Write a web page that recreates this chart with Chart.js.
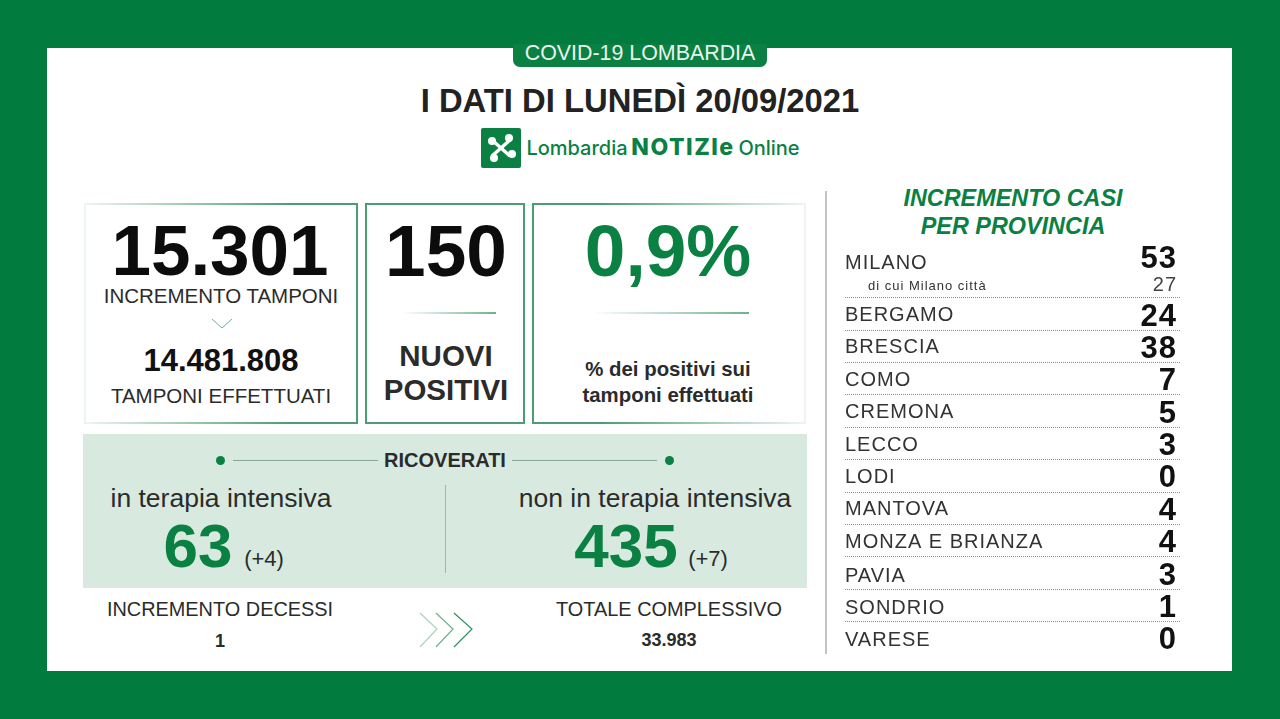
<!DOCTYPE html>
<html>
<head>
<meta charset="utf-8">
<script src="https://cdn.jsdelivr.net/npm/chart.js@4/dist/chart.umd.min.js"></script>
<style>
    html, body { margin: 0; padding: 0; }
    body { width: 1280px; height: 719px; background: #027b3f; position: relative; overflow: hidden; font-family: "Liberation Sans", sans-serif; color: #2b2b2b; }
    #sheet { position: absolute; left: 47px; top: 48px; width: 1185px; height: 623px; background: #fff; }
    #pill { position: absolute; left: 513px; top: 44px; width: 254px; height: 23px; background: #0a8043; border-radius: 0 0 7px 7px; }
    .t { position: absolute; white-space: nowrap; line-height: 1; transform: translate(-50%, -50%); }
    .b { font-weight: bold; }
    .g { color: #0a8043; }
    .box { position: absolute; box-sizing: border-box; border: 2px solid #4b9e72; top: 203px; height: 221px; }
    #box1 { left: 84px; width: 274px; border-image: linear-gradient(90deg, #eef5f0, #4b9e72 75%) 1; }
    #box2 { left: 365px; width: 160px; }
    #box3 { left: 532px; width: 274px; border-image: linear-gradient(270deg, #eef5f0, #4b9e72 75%) 1; }
    .rule { position: absolute; height: 2px; top: 312px; background: linear-gradient(90deg, #fff, #6fb18d); }
    #panel { position: absolute; left: 83px; top: 434px; width: 724px; height: 154px; background: #d8eae0; }
    .dot { position: absolute; width: 9px; height: 9px; border-radius: 50%; background: #0a8043; top: 456px; }
    .thin { position: absolute; height: 1px; top: 460px; background: #8aa598; }
    #split { position: absolute; left: 445px; top: 485px; width: 1px; height: 88px; background: #8fbfa5; }
    #divider { position: absolute; left: 825px; top: 191px; width: 2px; height: 463px; background: #c4c4c4; }
    #provinceChart { position: absolute; left: 845px; top: 233px; }
    svg { position: absolute; }
</style>
</head>
<body>
<div id="sheet"></div>
<div id="pill"></div>
<div class="t" style="left:640px;top:54px;font-size:21.4px;color:#e8f4ed">COVID-19 LOMBARDIA</div>
<div class="t b" style="left:640px;top:101px;font-size:32.8px;color:#222">I DATI DI LUNEDÌ 20/09/2021</div>

<!-- logo -->
<svg style="left:481px;top:128px" width="40" height="40" viewBox="0 0 40 40">
    <rect width="40" height="40" rx="2" fill="#0a8043"/>
    <g stroke="#fff" stroke-width="3.4"><line x1="11" y1="12" x2="29" y2="28"/><line x1="29" y1="12" x2="11" y2="28"/></g>
    <g fill="#fff"><circle cx="11" cy="13" r="4"/><circle cx="28" cy="10" r="4"/><circle cx="31" cy="26" r="4"/><circle cx="13" cy="30" r="4"/></g>
</svg>
<div class="t g" style="left:577px;top:148px;font:500 20px Inter;line-height:1">Lombardia</div>
<div class="t g" style="left:683px;top:147px;font:800 23px Inter;line-height:1;letter-spacing:1.5px">NOTIZIe</div>
<div class="t g" style="left:769px;top:148px;font:500 20px Inter;line-height:1">Online</div>

<!-- top boxes -->
<div class="box" id="box1"></div>
<div class="box" id="box2"></div>
<div class="box" id="box3"></div>
<div class="t b" style="left:220px;top:250px;font-size:71px;color:#0c0c0c">15.301</div>
<div class="t" style="left:221px;top:296px;font-size:20.5px">INCREMENTO TAMPONI</div>
<svg style="left:210px;top:317px" width="24" height="14"><polyline points="2,2 12,11 22,2" fill="none" stroke="#6fb18d" stroke-width="1"/></svg>
<div class="t b" style="left:221px;top:360px;font-size:31px;color:#111">14.481.808</div>
<div class="t" style="left:221px;top:396px;font-size:20.5px">TAMPONI EFFETTUATI</div>
<div class="t b" style="left:446px;top:250px;font-size:73px;color:#0c0c0c">150</div>
<div class="rule" style="left:402px;width:94px"></div>
<div class="t b" style="left:446px;top:356px;font-size:29.5px">NUOVI</div>
<div class="t b" style="left:446px;top:390px;font-size:29.5px">POSITIVI</div>
<div class="t b g" style="left:668px;top:250px;font-size:73px">0,9%</div>
<div class="rule" style="left:592px;width:157px"></div>
<div class="t b" style="left:668px;top:369px;font-size:20.4px">% dei positivi sui</div>
<div class="t b" style="left:668px;top:395px;font-size:20.4px">tamponi effettuati</div>

<!-- ricoverati -->
<div id="panel"></div>
<div class="dot" style="left:216px"></div>
<div class="dot" style="left:665px"></div>
<div class="thin" style="left:233px;width:145px"></div>
<div class="thin" style="left:512px;width:145px"></div>
<div class="t b" style="left:445px;top:460px;font-size:20px">RICOVERATI</div>
<div id="split"></div>
<div class="t" style="left:221px;top:498px;font-size:26.5px">in terapia intensiva</div>
<div class="t b g" style="left:198px;top:546px;font-size:62px">63</div>
<div class="t" style="left:264px;top:559px;font-size:22px">(+4)</div>
<div class="t" style="left:655px;top:498px;font-size:26.5px">non in terapia intensiva</div>
<div class="t b g" style="left:626px;top:546px;font-size:62px">435</div>
<div class="t" style="left:708px;top:559px;font-size:22px">(+7)</div>

<!-- bottom -->
<div class="t" style="left:220px;top:610px;font-size:19.9px">INCREMENTO DECESSI</div>
<div class="t b" style="left:220px;top:641px;font-size:18px">1</div>
<svg style="left:418px;top:610px" width="58" height="40">
    <g fill="none" stroke-width="1.2">
        <polyline points="2,3 19,19 2,37" stroke="#a9d3bb"/>
        <polyline points="18,3 35,19 18,37" stroke="#6fb18d"/>
        <polyline points="36,3 54,19 36,37" stroke="#2f9160"/>
    </g>
</svg>
<div class="t" style="left:669px;top:610px;font-size:19.9px">TOTALE COMPLESSIVO</div>
<div class="t b" style="left:669px;top:640px;font-size:18px">33.983</div>

<!-- province column -->
<div id="divider"></div>
<div class="t b g" style="left:1013px;top:199px;font-size:23.4px;font-style:italic">INCREMENTO CASI</div>
<div class="t b g" style="left:1013px;top:227px;font-size:23.4px;font-style:italic">PER PROVINCIA</div>
<canvas id="provinceChart" width="335" height="421" style="width:335px;height:421px"></canvas>

<script>
    const provinces = ['MILANO', 'di cui Milano città', 'BERGAMO', 'BRESCIA', 'COMO', 'CREMONA', 'LECCO', 'LODI', 'MANTOVA', 'MONZA E BRIANZA', 'PAVIA', 'SONDRIO', 'VARESE'];
    const newCases = [53, 27, 24, 38, 7, 5, 3, 0, 4, 4, 3, 1, 0];
    const subRow = 1;

    // the Milano rows are not evenly spaced in the picture, so shift their tick labels
    const shiftLabels = {
        id: 'shiftLabels',
        beforeDraw(chart) {
            chart.ctx.letterSpacing = '1px';
        },
        afterUpdate(chart) {
            chart.scales.y.getLabelItems().forEach((item, i) => {
                item.options.translation[1] += i === 0 ? 14 : i === subRow ? 5 : i >= 10 ? 3 : 1.5;
                if (i === subRow) item.options.translation[0] += 23;
            });
            chart.scales.y1.getLabelItems().forEach((item, i) => {
                item.options.translation[1] += i === 0 ? 10 : i === subRow ? 4 : 3;
                item.options.translation[0] -= 3;
            });
        }
    };

    // rows have to fill the canvas, no room kept for half a tick label
    const noPadding = scale => {
        scale.paddingTop = 0;
        scale.paddingBottom = 0;
    };

    new Chart(document.getElementById('provinceChart'), {
        type: 'bar',
        data: {
            labels: provinces,
            datasets: [{
                label: 'Incremento casi',
                data: newCases,
                backgroundColor: 'transparent',
                yAxisID: 'y',
                xAxisID: 'x'
            }]
        },
        options: {
            indexAxis: 'y',
            responsive: false,
            animation: false,
            layout: { padding: 0 },
            plugins: { legend: { display: false }, tooltip: { enabled: false } },
            scales: {
                x: { display: false, min: 0, max: 60 },
                y: {
                    type: 'category',
                    offset: true,
                    afterFit: noPadding,
                    border: { display: false, dash: [1, 1] },
                    grid: {
                        offset: true,
                        drawTicks: false,
                        color: ctx => (ctx.index >= 2 && ctx.index <= 12) ? '#4fb38f' : 'transparent'
                    },
                    ticks: {
                        mirror: true,
                        padding: 0,
                        autoSkip: false,
                        color: '#333',
                        font: ctx => ({ family: 'Liberation Sans', size: ctx.index === subRow ? 13 : 20 })
                    }
                },
                y1: {
                    type: 'category',
                    position: 'right',
                    offset: true,
                    afterFit: noPadding,
                    labels: newCases.map(String),
                    border: { display: false },
                    grid: { display: false, drawTicks: false },
                    ticks: {
                        mirror: true,
                        padding: 0,
                        autoSkip: false,
                        color: ctx => ctx.index === subRow ? '#444' : '#111',
                        font: ctx => ctx.index === subRow
                            ? { family: 'Liberation Sans', size: 20 }
                            : { family: 'Liberation Sans', size: 31, weight: 'bold' }
                    }
                }
            }
        },
        plugins: [shiftLabels]
    });
</script>
</body>
</html>
